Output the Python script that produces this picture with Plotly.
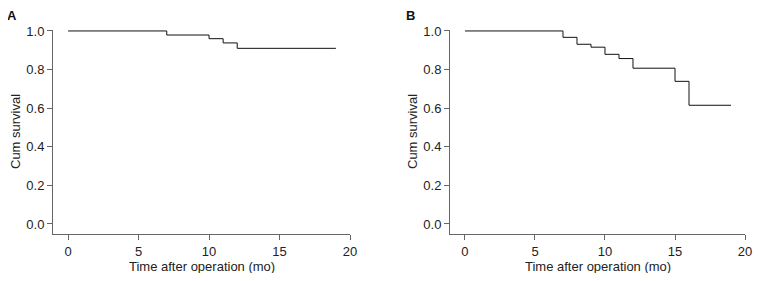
import plotly.graph_objects as go

# Panel A: Kaplan-Meier step data
a_time = [0, 7, 10, 11, 12, 19]
a_surv = [1.0, 0.979, 0.960, 0.938, 0.910, 0.910]

# Panel B
b_time = [0, 7, 8, 9, 10, 11, 12, 15, 16, 19]
b_surv = [1.0, 0.967, 0.931, 0.916, 0.879, 0.857, 0.807, 0.739, 0.615, 0.615]

panel_labels = ["A", "B"]
x_ticks = [0, 5, 10, 15, 20]
y_ticks = [0.0, 0.2, 0.4, 0.6, 0.8, 1.0]
x_title = "Time after operation (mo)"
y_title = "Cum survival"

FONT = "Liberation Sans, Arial, sans-serif"
W, H = 745, 265  # page body has an 8px margin in the viewer

fig = go.Figure()
fig.add_trace(go.Scatter(x=a_time, y=a_surv, mode="lines", line=dict(shape="hv", color="#111", width=1),
                         xaxis="x", yaxis="y", showlegend=False))
fig.add_trace(go.Scatter(x=b_time, y=b_surv, mode="lines", line=dict(shape="hv", color="#111", width=1),
                         xaxis="x2", yaxis="y2", showlegend=False))

axis_common = dict(showline=True, linecolor="#666", linewidth=1, ticks="outside", ticklen=5,
                   tickcolor="#666", showgrid=False, zeroline=False, automargin=False,
                   ticklabeloverflow="allow",
                   tickfont=dict(size=13, color="#222", family=FONT))
xdom = [[45 / W, 342 / W], [442 / W, 737 / W]]
ydom = [39 / H, 243 / H]
for i, (xa, ya) in enumerate([("xaxis", "yaxis"), ("xaxis2", "yaxis2")]):
    anchor_y = "y" if i == 0 else "y2"
    anchor_x = "x" if i == 0 else "x2"
    fig.update_layout({
        xa: dict(axis_common, domain=xdom[i], anchor=anchor_y, range=[-1.07, 20], tickvals=x_ticks),
        ya: dict(axis_common, domain=ydom, anchor=anchor_x, range=[-0.052, 1.005], tickvals=y_ticks,
                 tickformat=".1f"),
    })

tfont = dict(size=13, color="#222", family=FONT)
for i in range(2):
    xc = (xdom[i][0] + xdom[i][1]) / 2
    fig.add_annotation(text=x_title, x=xc, y=(H - 258) / H, xref="paper", yref="paper",
                       xanchor="center", yanchor="middle", showarrow=False, font=tfont)
    fig.add_annotation(text=y_title, x=xdom[i][0] - 38 / W, y=(ydom[0] + ydom[1]) / 2,
                       xref="paper", yref="paper", textangle=-90,
                       xanchor="center", yanchor="middle", showarrow=False, font=tfont)

for lab, xpx in zip(panel_labels, [-3, 396]):
    fig.add_annotation(text="<b>%s</b>" % lab, x=xpx / W, y=1 + 2 / H, xref="paper", yref="paper",
                       xanchor="left", yanchor="top", showarrow=False,
                       font=dict(size=13, color="#111", family=FONT))

fig.update_layout(width=W, height=H, margin=dict(l=0, r=0, t=0, b=0),
                  paper_bgcolor="white", plot_bgcolor="white", font=dict(family=FONT))
fig.write_html("out.html")
